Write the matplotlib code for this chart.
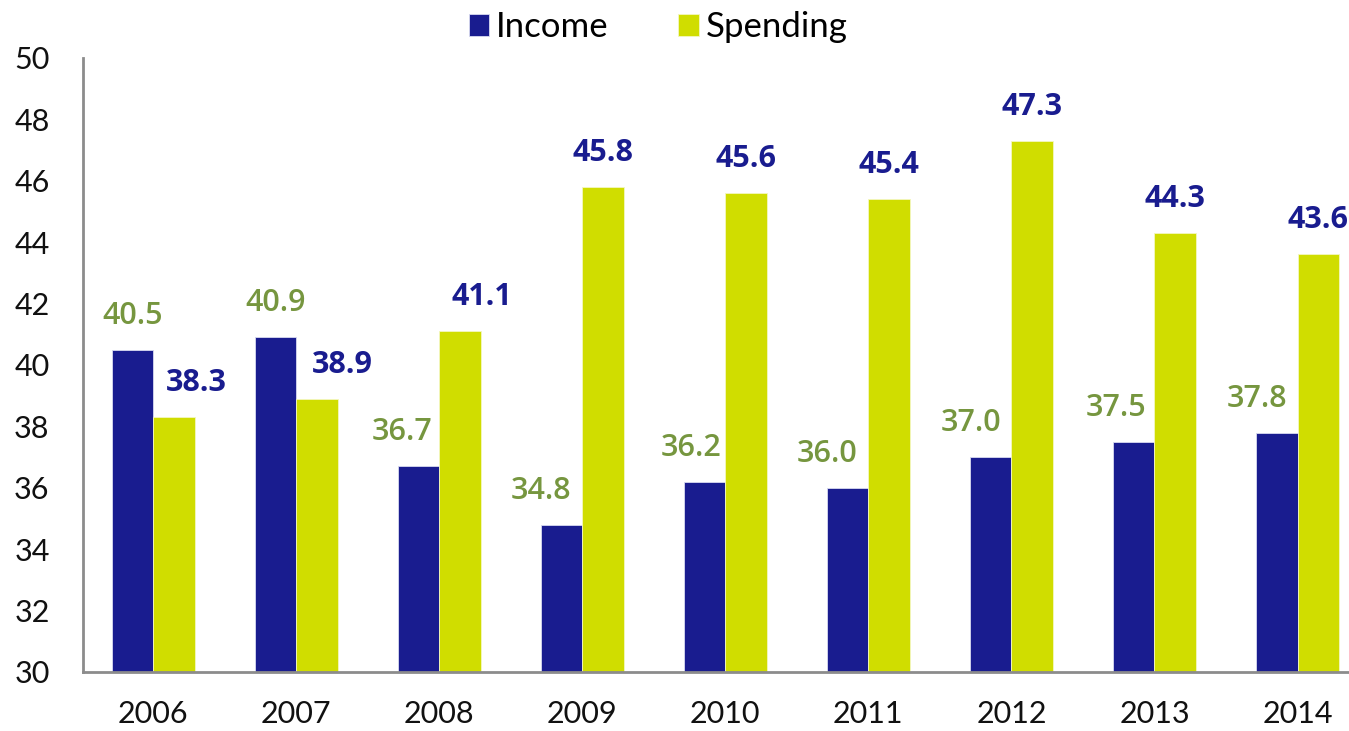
import matplotlib.pyplot as plt
import numpy as np

# income and spending as % of GDP
years = ['2006', '2007', '2008', '2009', '2010', '2011', '2012', '2013', '2014']
income = [40.5, 40.9, 36.7, 34.8, 36.2, 36.0, 37.0, 37.5, 37.8]
spending = [38.3, 38.9, 41.1, 45.8, 45.6, 45.4, 47.3, 44.3, 43.6]

# sideways nudge of each value label (points)
income_dx = [0, 0, -12, -15, -10, -15, -14, -13, -14]
spending_dx = [16, 18, 16, 0, 0, 0, 0, 0, 0]

navy = '#191c8f'
lime = '#d0dd00'
olive = '#76963f'

plt.rcParams['font.family'] = ['Lato', 'DejaVu Sans']

fig = plt.figure(figsize=(13.49, 7.31), dpi=100)
ax = fig.add_axes([83 / 1349, 59 / 731, 1 - 83 / 1349, 614 / 731])

x = np.arange(len(years))
w = 0.29
b1 = ax.bar(x - w / 2, income, w, color=navy, edgecolor='#d8daf0', linewidth=0.6, label='Income')
b2 = ax.bar(x + w / 2, spending, w, color=lime, edgecolor='#f4f7c0', linewidth=0.6, label='Spending')

for i in range(len(years)):
    ax.annotate(f'{income[i]:.1f}', (x[i] - w / 2, income[i]), xytext=(income_dx[i], 24.5),
                textcoords='offset points', ha='center', va='center',
                fontsize=22, color=olive, fontweight='semibold', family=['Open Sans', 'DejaVu Sans'])
    ax.annotate(f'{spending[i]:.1f}', (x[i] + w / 2, spending[i]), xytext=(spending_dx[i], 24.5),
                textcoords='offset points', ha='center', va='center',
                fontsize=22, color=navy, fontweight='bold', family=['Open Sans', 'DejaVu Sans'])

ax.set_ylim(30, 50)
ax.set_yticks(range(30, 51, 2))
ax.set_xlim(-0.49, 8.36)
ax.set_xticks(x)
ax.set_xticklabels(years)
ax.tick_params(axis='both', length=0, labelsize=22, colors='#111111')
ax.tick_params(axis='y', pad=24)
ax.tick_params(axis='x', pad=20)

for s in ['top', 'right']:
    ax.spines[s].set_visible(False)
for s in ['left', 'bottom']:
    ax.spines[s].set_color('#8c8c8c')
    ax.spines[s].set_linewidth(2)

fig.legend(handles=[b1, b2], loc='center', bbox_to_anchor=(0.488, 0.963), ncol=2,
           frameon=False, fontsize=25, handlelength=0.6, handleheight=0.6,
           handletextpad=0.2, columnspacing=2.0, borderpad=0)

plt.savefig('out.png', dpi=100)
